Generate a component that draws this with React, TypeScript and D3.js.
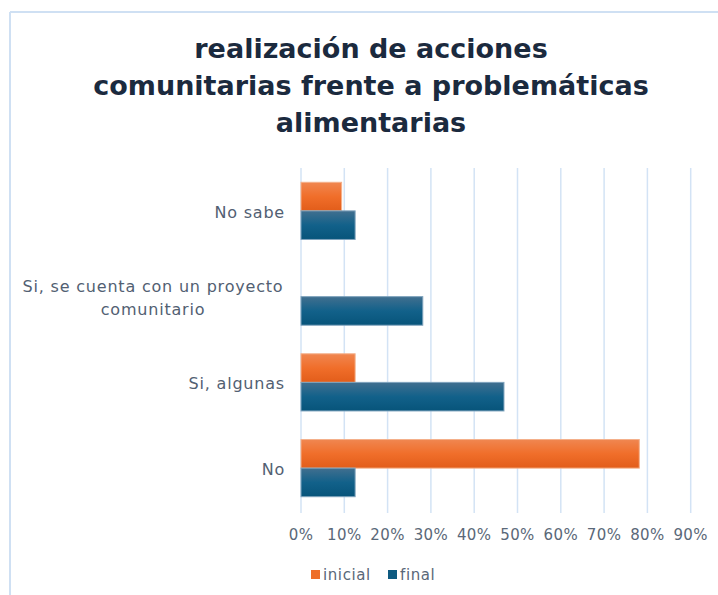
import React from "react";
import * as d3 from "d3";

const categories = ["No sabe", "Si, se cuenta con un proyecto comunitario", "Si, algunas", "No"];
const categoryLines = [["No sabe"], ["Si, se cuenta con un proyecto", "comunitario"], ["Si, algunas"], ["No"]];
const seriesNames = ["inicial", "final"];
const inicial = [0.09375, 0, 0.125, 0.78125];
const final = [0.125, 0.28125, 0.46875, 0.125];
const ticks = [0, 0.1, 0.2, 0.3, 0.4, 0.5, 0.6, 0.7, 0.8, 0.9];
const titleLines = ["realización de acciones", "comunitarias frente a problemáticas", "alimentarias"];

const W = 718, H = 595;
const FONT = "'DejaVu Sans', sans-serif";

export default function App() {
  const x = d3.scaleLinear().domain([0, 0.9]).range([301, 690.7]);
  const y = d3.scaleBand().domain(categories).range([168, 511]).paddingInner(1 / 3).paddingOuter(1 / 6);
  const sub = d3.scaleBand().domain(seriesNames).range([0, y.bandwidth()]);
  const series = [inicial, final];
  const fills = ["url(#gOrange)", "url(#gBlue)"];
  const strokes = ["#f4b08a", "#7fa3bd"];
  return (
    <svg width={W} height={H} style={{ position: "absolute", left: 0, top: 0, background: "#fff" }}>
      <defs>
        <linearGradient id="gOrange" x1="0" y1="0" x2="0" y2="1">
          <stop offset="0" stopColor="#f08650" />
          <stop offset="0.5" stopColor="#f06e2a" />
          <stop offset="1" stopColor="#e25d1a" />
        </linearGradient>
        <linearGradient id="gBlue" x1="0" y1="0" x2="0" y2="1">
          <stop offset="0" stopColor="#416f8f" />
          <stop offset="0.5" stopColor="#12618a" />
          <stop offset="1" stopColor="#07547a" />
        </linearGradient>
      </defs>
      <rect x={0} y={0} width={W} height={H} fill="#fff" />
      <line x1={10} y1={12} x2={W} y2={12} stroke="#cfe0f3" strokeWidth={2} />
      <line x1={10} y1={12} x2={10} y2={H} stroke="#cfe0f3" strokeWidth={2} />
      {titleLines.map((t, i) => (
        <text key={i} x={371} y={58 + i * 37} textAnchor="middle" fontFamily={FONT} fontWeight="bold" fontSize={27} fill="#1b2a3e">{t}</text>
      ))}
      {ticks.map((t) => (
        <g key={t}>
          <line x1={x(t)} x2={x(t)} y1={168} y2={513} stroke="#d3e3f5" strokeWidth={1.5} />
          <text x={x(t)} y={540} textAnchor="middle" fontFamily={FONT} fontSize={15} letterSpacing={0.4} fill="#5a6878">{d3.format(".0%")(t)}</text>
        </g>
      ))}
      {categories.map((c, ci) => (
        <g key={c}>
          {series.map((s, si) => (
            s[ci] > 0 ? (
              <rect key={si} x={x(0)} y={(y(c) as number) + (sub(seriesNames[si]) as number)} width={x(s[ci]) - x(0)} height={sub.bandwidth()} fill={fills[si]} stroke={strokes[si]} strokeWidth={1} />
            ) : null
          ))}
          {categoryLines[ci].map((ln, li) => {
            const n = categoryLines[ci].length;
            const cy = (y(c) as number) + y.bandwidth() / 2 + (li - (n - 1) / 2) * 23;
            return (
              <text key={li} x={n > 1 ? 153 : 285} y={cy + 7} textAnchor={n > 1 ? "middle" : "end"} fontFamily={FONT} fontSize={16} letterSpacing={0.8} fill="#526072">{ln}</text>
            );
          })}
        </g>
      ))}
      <g>
        <rect x={311} y={570} width={9} height={9} fill="#ee6e28" />
        <text x={323} y={580} fontFamily={FONT} fontSize={15} letterSpacing={0.6} fill="#5a6878">{seriesNames[0]}</text>
        <rect x={388} y={570} width={9} height={9} fill="#0e5a80" />
        <text x={400} y={580} fontFamily={FONT} fontSize={15} letterSpacing={0.6} fill="#5a6878">{seriesNames[1]}</text>
      </g>
    </svg>
  );
}
